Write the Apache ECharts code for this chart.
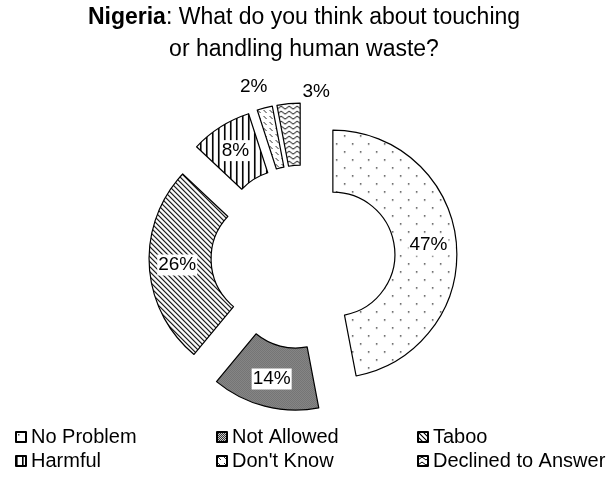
<!DOCTYPE html>
<html>
<head>
<meta charset="utf-8">
<script src="https://cdn.jsdelivr.net/npm/echarts@6/dist/echarts.min.js"></script>
<style>
  html, body { margin: 0; padding: 0; background: #fff; }
  #chart { width: 608px; height: 478px; }
</style>
</head>
<body>
<div id="chart"></div>
<script>
// Survey answers (percent of respondents)
const categories = ['No Problem', 'Not Allowed', 'Taboo', 'Harmful', "Don't Know", 'Declined to Answer'];
const shares = [47, 14, 26, 8, 2, 3];

// Legend grid: three columns, two rows
const legendRow1 = ['No Problem', 'Not Allowed', 'Taboo'];
const legendRow2 = ['Harmful', "Don't Know", 'Declined to Answer'];

const FONT = '"Liberation Sans", Arial, Helvetica, sans-serif';

// Small repeating canvas tiles used as monochrome hatch fills
function tile(w, h, draw) {
  const c = document.createElement('canvas');
  c.width = w; c.height = h;
  const g = c.getContext('2d');
  g.fillStyle = '#fff';
  g.fillRect(0, 0, w, h);
  draw(g);
  return { image: c, repeat: 'repeat' };
}

const fills = {
  'No Problem': tile(16, 16, g => {
    g.fillStyle = '#444';
    g.fillRect(2, 2, 1.5, 1.5);
    g.fillRect(10, 10, 1.5, 1.5);
  }),
  'Not Allowed': tile(2, 2, g => {
    g.fillStyle = '#333';
    g.fillRect(0, 0, 1, 1); g.fillRect(1, 1, 1, 1);
    g.fillStyle = '#c8c8c8';
    g.fillRect(1, 0, 1, 1); g.fillRect(0, 1, 1, 1);
  }),
  'Taboo': tile(5, 5, g => {
    g.strokeStyle = '#000'; g.lineWidth = 1.1;
    g.beginPath();
    g.moveTo(-1, -1); g.lineTo(6, 6);
    g.moveTo(-1, 4); g.lineTo(1, 6);
    g.moveTo(4, -1); g.lineTo(6, 1);
    g.stroke();
  }),
  'Harmful': tile(6, 2, g => {
    g.fillStyle = '#000';
    g.fillRect(0, 0, 1.6, 2);
  }),
  "Don't Know": tile(6, 6, g => {
    g.strokeStyle = '#333'; g.lineWidth = 1;
    g.beginPath(); g.moveTo(1, 1); g.lineTo(4, 4); g.stroke();
  }),
  'Declined to Answer': tile(8, 5, g => {
    g.strokeStyle = '#000'; g.lineWidth = 1;
    g.beginPath(); g.moveTo(0, 4); g.lineTo(4, 1); g.lineTo(8, 4); g.stroke();
  })
};

// The two thin slices carry their labels just beyond the ring
const labelShift = {
  "Don't Know": [-18, -48],
  'Declined to Answer': [25, -40]
};

const pieData = categories.map((name, i) => {
  const item = {
    name: name,
    value: shares[i],
    selected: true,
    itemStyle: { color: fills[name] }
  };
  if (labelShift[name]) {
    item.label = { backgroundColor: 'transparent' };
  }
  return item;
});

// One legend block per entry so the entries sit on a fixed grid
const colLeft = [15, 216, 417];
const rowTop = [427, 451];
const legends = [];
[legendRow1, legendRow2].forEach((row, r) => {
  row.forEach((name, c) => {
    legends.push({
      data: [name],
      left: colLeft[c],
      top: rowTop[r],
      padding: 0,
      icon: 'rect',
      itemWidth: 10,
      itemHeight: 10,
      itemGap: 0,
      selectedMode: false,
      textStyle: { fontSize: 20, color: '#000', fontFamily: FONT }
    });
  });
});

const chart = echarts.init(document.getElementById('chart'), null, { renderer: 'canvas' });
chart.setOption({
  backgroundColor: '#fff',
  animation: false,
  title: {
    text: '{b|Nigeria}: What do you think about touching\nor handling human waste?',
    left: 'center',
    top: 2,
    padding: 0,
    textStyle: {
      fontSize: 23,
      fontWeight: 'normal',
      color: '#000',
      fontFamily: FONT,
      lineHeight: 32,
      align: 'center',
      rich: {
        b: { fontSize: 23, fontWeight: 'bold', color: '#000', fontFamily: FONT, lineHeight: 32 }
      }
    }
  },
  legend: legends,
  series: [{
    type: 'pie',
    center: [303, 257],
    radius: [62, 124],
    startAngle: 90,
    clockwise: true,
    selectedMode: 'multiple',
    selectedOffset: 30,
    avoidLabelOverlap: false,
    emphasis: { disabled: true },
    itemStyle: { borderColor: '#000', borderWidth: 1.2 },
    select: { itemStyle: { borderColor: '#000', borderWidth: 1.2 } },
    label: {
      show: true,
      position: 'inside',
      formatter: '{c}%',
      fontSize: 19,
      color: '#000',
      fontFamily: FONT,
      backgroundColor: '#fff',
      padding: [1, 1]
    },
    labelLine: { show: false },
    labelLayout: function (params) {
      const shift = labelShift[categories[params.dataIndex]];
      return shift ? { dx: shift[0], dy: shift[1], hideOverlap: false } : { hideOverlap: false };
    },
    data: pieData
  }]
});
</script>
</body>
</html>
